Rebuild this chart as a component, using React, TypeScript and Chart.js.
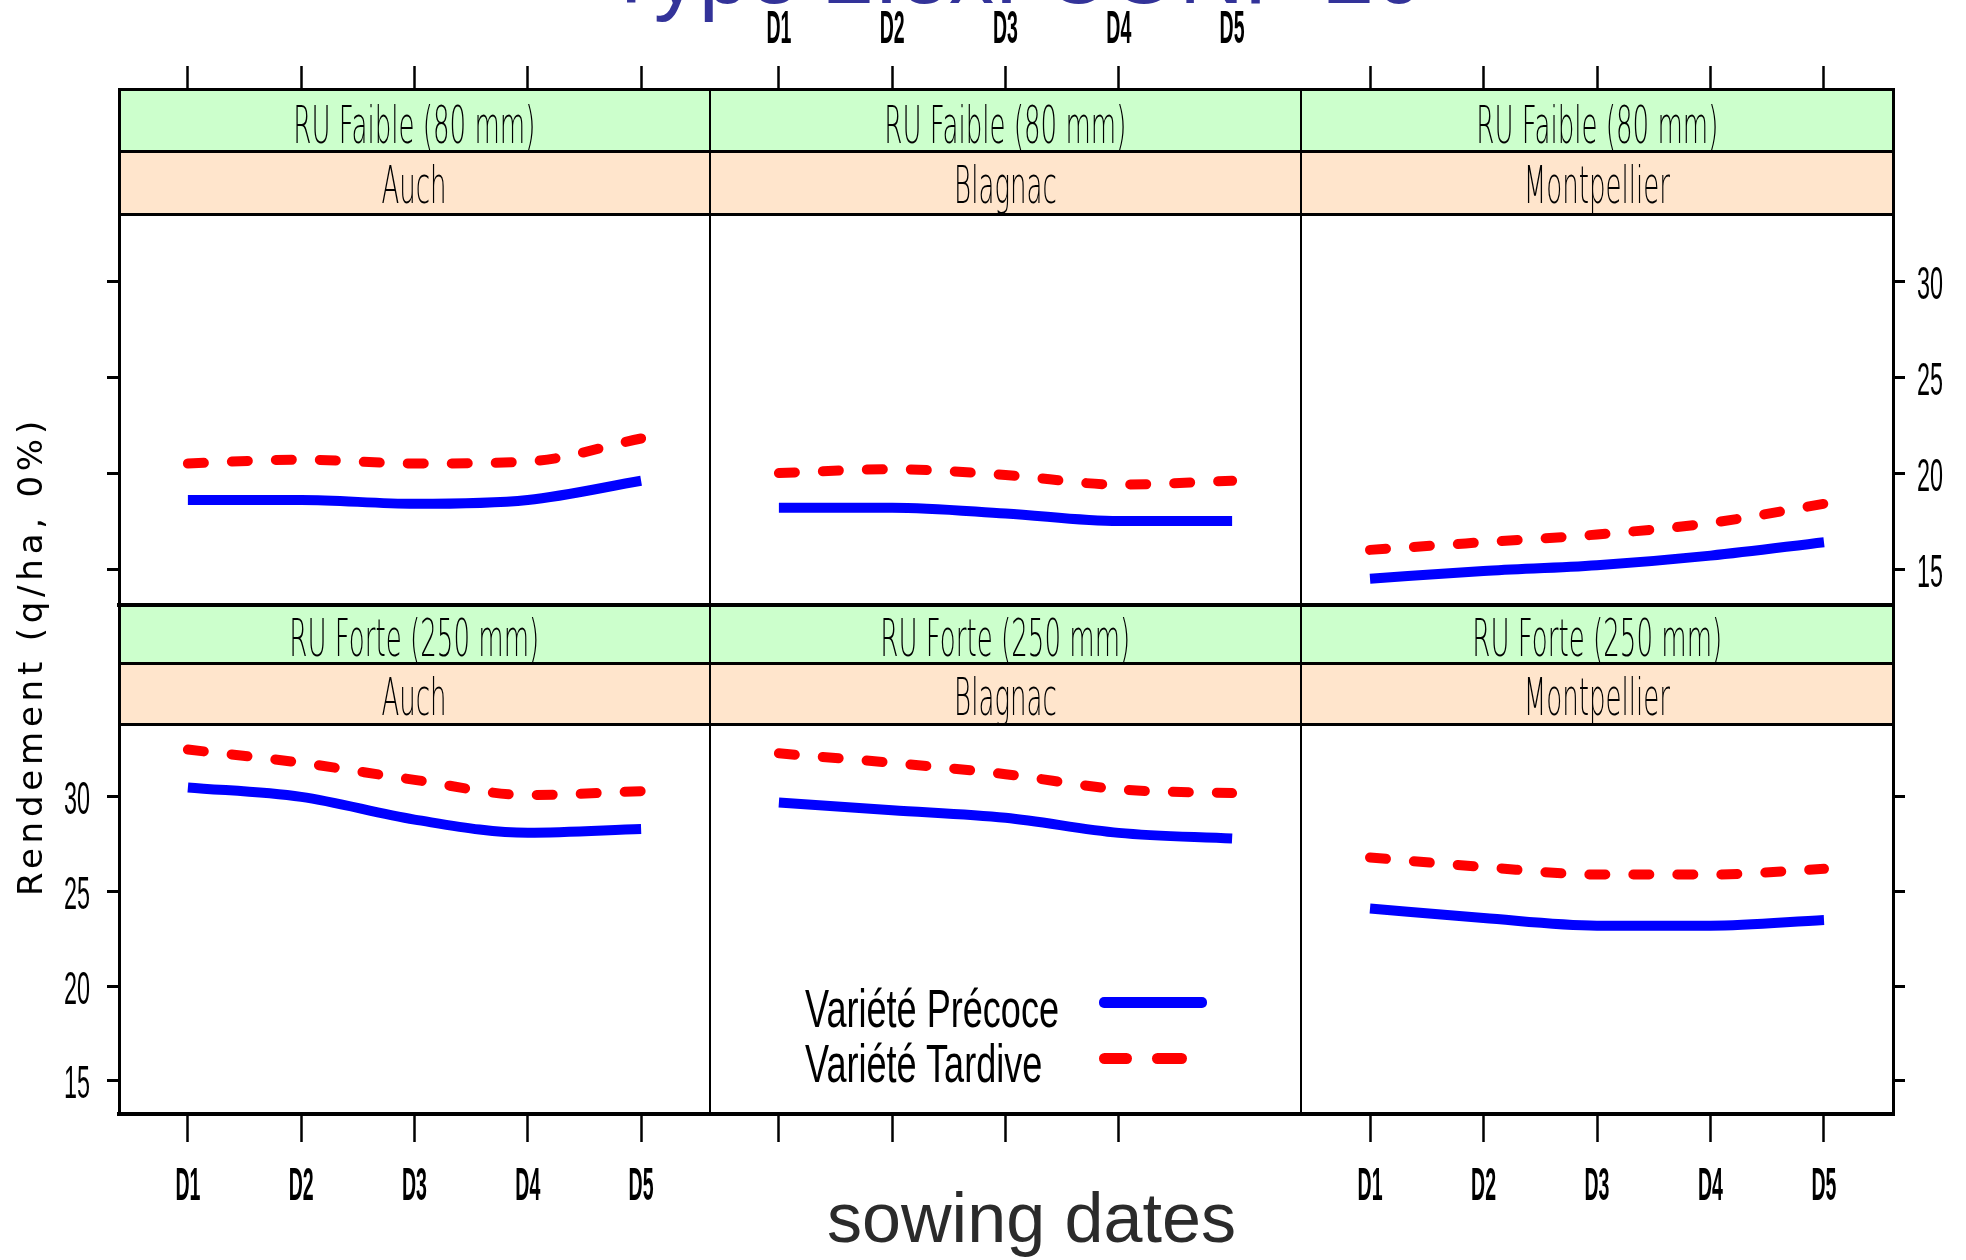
import React, { useEffect, useRef } from 'react';
import { Chart, registerables } from 'chart.js';

Chart.register(...registerables);

// ---------------- data ----------------
const sowingDates = ['D1', 'D2', 'D3', 'D4', 'D5'];
const sites = ['Auch', 'Blagnac', 'Montpellier'];
const reserveLevels = ['RU Faible (80 mm)', 'RU Forte (250 mm)'];
const seriesNames = ['Variété Précoce', 'Variété Tardive'];
const yTickValues = [15, 20, 25, 30];

const faibleAuchPrecoce = [18.6, 18.6, 18.4, 18.6, 19.6];
const faibleAuchTardive = [20.5, 20.7, 20.5, 20.6, 21.8];
const faibleBlagnacPrecoce = [18.2, 18.2, 17.9, 17.5, 17.5];
const faibleBlagnacTardive = [20.0, 20.2, 19.9, 19.4, 19.6];
const faibleMontpellierPrecoce = [14.5, 14.9, 15.2, 15.7, 16.4];
const faibleMontpellierTardive = [16.0, 16.4, 16.8, 17.4, 18.4];
const forteAuchPrecoce = [30.5, 30.0, 28.8, 28.1, 28.3];
const forteAuchTardive = [32.5, 31.8, 30.9, 30.1, 30.3];
const forteBlagnacPrecoce = [29.7, 29.3, 28.9, 28.1, 27.8];
const forteBlagnacTardive = [32.3, 31.8, 31.2, 30.4, 30.2];
const forteMontpellierPrecoce = [24.1, 23.6, 23.2, 23.2, 23.5];
const forteMontpellierTardive = [26.8, 26.3, 25.9, 25.9, 26.2];

const titleText = 'Type 2.ex. CONF 20';
const xAxisTitle = 'sowing dates';
const yAxisTitle = 'Rendement (q/ha, 0%)';

const panelSeries = [
  [
    [faibleAuchPrecoce, faibleAuchTardive],
    [faibleBlagnacPrecoce, faibleBlagnacTardive],
    [faibleMontpellierPrecoce, faibleMontpellierTardive],
  ],
  [
    [forteAuchPrecoce, forteAuchTardive],
    [forteBlagnacPrecoce, forteBlagnacTardive],
    [forteMontpellierPrecoce, forteMontpellierTardive],
  ],
];

// ---------------- layout ----------------
const W = 1966;
const H = 1260;
const COL_X = [119, 710, 1301, 1893];
const ROWS = [
  { stripTop: 89, stripMid: 151, plotTop: 214, plotBot: 605, yMin: 13.13, yMax: 33.49, greenBase: 143, peachBase: 203 },
  { stripTop: 605, stripMid: 663, plotTop: 724, plotBot: 1114, yMin: 13.25, yMax: 33.85, greenBase: 656, peachBase: 715 },
];
const X_MIN = 0.392;
const X_MAX = 5.608;
const PAD = { l: 80, r: 80, t: 220, b: 110 };
const FONT = '"Liberation Sans", Arial, sans-serif';
const STRIP_FONT = '"DejaVu Sans", "Liberation Sans", sans-serif';
const YLAB_FONT = '"DejaVu Sans", "Liberation Sans", sans-serif';
const BLUE = '#0000FF';
const RED = '#FF0000';
const GREEN_BG = '#CCFFCC';
const PEACH_BG = '#FFE5CC';

const mctx: CanvasRenderingContext2D | null =
  typeof document !== 'undefined' ? document.createElement('canvas').getContext('2d') : null;
function measure(text: string, font: string): number {
  if (!mctx) return text.length * 20;
  mctx.font = font;
  return mctx.measureText(text).width;
}

type TxtProps = {
  text: string;
  x: number;
  baseline: number;
  fs: number;
  width?: number;
  scale?: number;
  align?: 'left' | 'center';
  family?: string;
  weight?: number;
  color?: string;
};

function Txt({ text, x, baseline, fs, width, scale, align = 'left', family = FONT, weight = 400, color = '#000' }: TxtProps) {
  const font = `${weight} ${fs}px ${family}`;
  const nat = measure(text, font);
  const k = width ? width / nat : scale ?? 1;
  const left = align === 'center' ? x - nat / 2 : x;
  return (
    <div
      style={{
        position: 'absolute',
        left,
        top: baseline - 0.846 * fs,
        fontFamily: family,
        fontSize: fs,
        fontWeight: weight,
        lineHeight: `${fs}px`,
        whiteSpace: 'nowrap',
        color,
        transform: `scaleX(${k})`,
        transformOrigin: align === 'center' ? '50% 50%' : '0 50%',
        zIndex: 4,
      }}
    >
      {text}
    </div>
  );
}

function Line({ x1, y1, x2, y2, t, z = 3 }: { x1: number; y1: number; x2: number; y2: number; t: number; z?: number }) {
  const horizontal = y1 === y2;
  return (
    <div
      style={{
        position: 'absolute',
        left: x1 - t / 2,
        top: y1 - t / 2,
        width: horizontal ? x2 - x1 + t : t,
        height: horizontal ? t : y2 - y1 + t,
        background: '#000',
        zIndex: z,
      }}
    />
  );
}

function Panel({ row, col }: { row: number; col: number }) {
  const ref = useRef<HTMLCanvasElement>(null);
  const R = ROWS[row];
  const left = COL_X[col];
  const right = COL_X[col + 1];
  const w = right - left + PAD.l + PAD.r;
  const h = R.plotBot - R.plotTop + PAD.t + PAD.b;

  useEffect(() => {
    if (!ref.current) return;
    const [pre, tar] = panelSeries[row][col];
    const all5 = [0, 1, 2, 3, 4];
    const all4 = [0, 1, 2, 3];
    const topIdx = row === 0 ? (col === 1 ? all4 : all5) : [];
    const botIdx = row === 1 ? (col === 1 ? all4 : all5) : [];
    const leftIdx = col === 0 ? all4 : [];
    const rightIdx = col === 2 ? all4 : [];
    const showTop = row === 0 && col === 1;
    const showBottom = row === 1 && col !== 1;
    const showLeft = row === 1 && col === 0;
    const showRight = row === 0 && col === 2;

    const grid = (idx: number[], len: number, width: number) => ({
      display: true,
      drawOnChartArea: false,
      drawTicks: true,
      tickLength: len,
      tickWidth: width,
      tickColor: (c: any) => (idx.includes(c.index) ? '#000' : 'rgba(0,0,0,0)'),
    });

    const xScale = (position: 'top' | 'bottom', idx: number[], len: number) => ({
      type: 'linear' as const,
      position,
      min: X_MIN,
      max: X_MAX,
      afterBuildTicks: (s: any) => {
        s.ticks = sowingDates.map((_, i) => ({ value: i + 1 }));
      },
      afterFit: (s: any) => {
        s.height = position === 'top' ? PAD.t : PAD.b;
      },
      ticks: { display: false },
      grid: grid(idx, len, 2.5),
      border: { display: false },
    });

    const yScale = (position: 'left' | 'right', idx: number[]) => ({
      type: 'linear' as const,
      position,
      min: R.yMin,
      max: R.yMax,
      afterBuildTicks: (s: any) => {
        s.ticks = yTickValues.map((v) => ({ value: v }));
      },
      afterFit: (s: any) => {
        s.width = position === 'left' ? PAD.l : PAD.r;
      },
      ticks: { display: false },
      grid: grid(idx, 12, 3),
      border: { display: false },
    });

    const labelPlugin = {
      id: 'condensedTickLabels',
      afterDraw(chart: any) {
        const ctx: CanvasRenderingContext2D = chart.ctx;
        const a = chart.chartArea;
        ctx.save();
        ctx.fillStyle = '#000';
        if (showTop || showBottom) {
          ctx.font = `bold 46px ${FONT}`;
          const k = 25 / ctx.measureText('D1').width;
          const xs = chart.scales.x;
          sowingDates.forEach((lab, i) => {
            const px = xs.getPixelForValue(i + 1);
            const by = showTop ? a.top - 171 : a.bottom + 86;
            ctx.save();
            ctx.translate(px, by);
            ctx.scale(k, 1);
            ctx.textAlign = 'center';
            ctx.textBaseline = 'alphabetic';
            ctx.fillText(lab, 0, 0);
            ctx.restore();
          });
        }
        if (showLeft || showRight) {
          ctx.font = `46px ${FONT}`;
          const k = 26 / ctx.measureText('30').width;
          const ys = chart.scales.y;
          yTickValues.forEach((v) => {
            const py = ys.getPixelForValue(v);
            const bx = showLeft ? a.left - 29 : a.right + 24;
            ctx.save();
            ctx.translate(bx, py + 17.5);
            ctx.scale(k, 1);
            ctx.textAlign = showLeft ? 'right' : 'left';
            ctx.textBaseline = 'alphabetic';
            ctx.fillText(String(v), 0, 0);
            ctx.restore();
          });
        }
        ctx.restore();
      },
    };

    const chart = new Chart(ref.current, {
      type: 'line',
      data: {
        datasets: [
          {
            label: seriesNames[0],
            data: pre.map((v, i) => ({ x: i + 1, y: v })),
            borderColor: BLUE,
            backgroundColor: BLUE,
            borderWidth: 10,
            borderCapStyle: 'butt',
            pointRadius: 0,
            fill: false,
            cubicInterpolationMode: 'monotone',
            xAxisID: 'x',
            yAxisID: 'y',
          },
          {
            label: seriesNames[1],
            data: tar.map((v, i) => ({ x: i + 1, y: v })),
            borderColor: RED,
            backgroundColor: RED,
            borderWidth: 10,
            borderDash: [16, 28],
            borderCapStyle: 'round',
            pointRadius: 0,
            fill: false,
            cubicInterpolationMode: 'monotone',
            xAxisID: 'x',
            yAxisID: 'y',
          },
        ],
      },
      options: {
        animation: false,
        responsive: false,
        devicePixelRatio: 1,
        events: [],
        layout: { padding: 0 },
        plugins: { legend: { display: false }, tooltip: { enabled: false }, title: { display: false } },
        scales: {
          x: xScale('bottom', botIdx, 28),
          x2: xScale('top', topIdx, row === 0 ? R.plotTop - 66 : 10),
          y: yScale('left', leftIdx),
          y2: yScale('right', rightIdx),
        } as any,
      },
      plugins: [labelPlugin],
    } as any);
    return () => chart.destroy();
  }, [row, col]);

  return (
    <canvas
      ref={ref}
      width={w}
      height={h}
      style={{ position: 'absolute', left: left - PAD.l, top: R.plotTop - PAD.t, width: w, height: h, zIndex: 1 }}
    />
  );
}

export default function App() {
  const stripFontSize = 52;
  const stripK = 242 / measure(reserveLevels[0], `200 ${stripFontSize}px ${STRIP_FONT}`);

  const yLabelFs = 34;
  const yLabelNat = measure(yAxisTitle, `400 ${yLabelFs}px ${YLAB_FONT}`);
  const yLabelSpacing = Math.max(0, (480 - yLabelNat) / yAxisTitle.length);

  const strips: React.ReactNode[] = [];
  ROWS.forEach((R, r) => {
    sites.forEach((site, c) => {
      const L = COL_X[c];
      const Rr = COL_X[c + 1];
      const cx = (L + Rr) / 2;
      strips.push(
        <div key={`g${r}${c}`} style={{ position: 'absolute', left: L, top: R.stripTop, width: Rr - L, height: R.stripMid - R.stripTop, background: GREEN_BG, zIndex: 2 }} />,
        <div key={`p${r}${c}`} style={{ position: 'absolute', left: L, top: R.stripMid, width: Rr - L, height: R.plotTop - R.stripMid, background: PEACH_BG, zIndex: 2 }} />,
        <Txt key={`gt${r}${c}`} text={reserveLevels[r]} x={cx} baseline={R.greenBase} fs={stripFontSize} scale={stripK} align="center" family={STRIP_FONT} weight={200} />,
        <Txt key={`pt${r}${c}`} text={site} x={cx} baseline={R.peachBase} fs={stripFontSize} scale={stripK} align="center" family={STRIP_FONT} weight={200} />
      );
    });
  });

  const panels: React.ReactNode[] = [];
  [0, 1].forEach((r) => [0, 1, 2].forEach((c) => panels.push(<Panel key={`panel${r}${c}`} row={r} col={c} />)));

  const x0 = COL_X[0];
  const x3 = COL_X[3];
  const lines = [
    <Line key="top" x1={x0} y1={ROWS[0].stripTop} x2={x3} y2={ROWS[0].stripTop} t={3} />,
    <Line key="bot" x1={x0} y1={ROWS[1].plotBot} x2={x3} y2={ROWS[1].plotBot} t={4} />,
    <Line key="lft" x1={x0} y1={ROWS[0].stripTop} x2={x0} y2={ROWS[1].plotBot} t={3} />,
    <Line key="rgt" x1={x3} y1={ROWS[0].stripTop} x2={x3} y2={ROWS[1].plotBot} t={3} />,
    <Line key="h1" x1={x0} y1={ROWS[0].stripMid} x2={x3} y2={ROWS[0].stripMid} t={3} />,
    <Line key="h2" x1={x0} y1={ROWS[0].plotTop} x2={x3} y2={ROWS[0].plotTop} t={3} />,
    <Line key="h3" x1={x0} y1={ROWS[1].stripTop} x2={x3} y2={ROWS[1].stripTop} t={4} />,
    <Line key="h4" x1={x0} y1={ROWS[1].stripMid} x2={x3} y2={ROWS[1].stripMid} t={3} />,
    <Line key="h5" x1={x0} y1={ROWS[1].plotTop} x2={x3} y2={ROWS[1].plotTop} t={3} />,
    <Line key="v1" x1={COL_X[1]} y1={ROWS[0].stripTop} x2={COL_X[1]} y2={ROWS[1].plotBot} t={2.5} />,
    <Line key="v2" x1={COL_X[2]} y1={ROWS[0].stripTop} x2={COL_X[2]} y2={ROWS[1].plotBot} t={2.5} />,
  ];

  return (
    <div
      style={{
        position: 'absolute',
        left: 0,
        top: 0,
        width: W,
        height: H,
        overflow: 'hidden',
        background: '#fff',
        fontFamily: FONT,
      }}
    >
      {panels}
      {strips}
      {lines}

      {/* title (cut off at the top, as in the reference) */}
      <Txt text={titleText} x={1014} baseline={3} fs={90} align="center" color="#333399" />

      {/* axis titles */}
      <Txt text={xAxisTitle} x={827} baseline={1242} fs={70} width={409} color="#2b2b2b" />
      <div
        style={{
          position: 'absolute',
          left: 29.7,
          top: 656,
          fontFamily: YLAB_FONT,
          fontSize: yLabelFs,
          lineHeight: `${yLabelFs}px`,
          letterSpacing: `${yLabelSpacing}px`,
          whiteSpace: 'nowrap',
          color: '#000',
          transform: 'translate(-50%, -50%) rotate(-90deg)',
          zIndex: 4,
        }}
      >
        {yAxisTitle}
      </div>

      {/* legend */}
      <Txt text={seriesNames[0]} x={805} baseline={1027} fs={54} width={254} />
      <Txt text={seriesNames[1]} x={805} baseline={1082} fs={54} width={238} />
      <div style={{ position: 'absolute', left: 1099, top: 996.5, width: 108, height: 11, background: BLUE, borderRadius: 5, zIndex: 4 }} />
      <div style={{ position: 'absolute', left: 1099, top: 1053, width: 33, height: 11, background: RED, borderRadius: 5.5, zIndex: 4 }} />
      <div style={{ position: 'absolute', left: 1152, top: 1053, width: 35, height: 11, background: RED, borderRadius: 5.5, zIndex: 4 }} />
    </div>
  );
}
